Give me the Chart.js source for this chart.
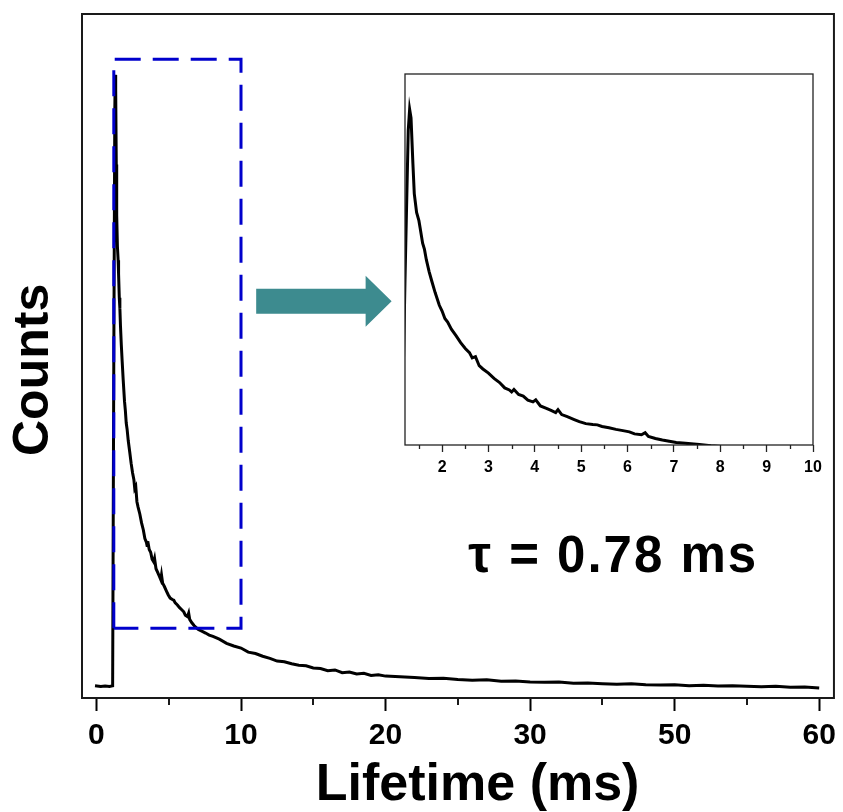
<!DOCTYPE html>
<html><head><meta charset="utf-8">
<script src="https://cdn.jsdelivr.net/npm/chart.js@4.4.1/dist/chart.umd.min.js"></script>
<style>
html,body{margin:0;padding:0;background:#fff;}
#wrap{position:relative;width:843px;height:812px;overflow:hidden;}
canvas{position:absolute;left:0;top:0;}
</style></head><body>
<div id="wrap"><canvas id="main" width="843" height="812"></canvas><canvas id="inset" width="843" height="812"></canvas></div>
<script>
// ---- data (x in axis units of the plotted time axis, y = counts, normalised) ----
const lifetimeMs = [
 -0.1, 0.3, 0.6, 0.9, 1.12, 1.2, 1.27, 1.30, 1.33, 1.37, 1.40, 1.45, 1.50, 1.53, 1.58, 1.62, 1.66, 1.72, 1.78, 1.85,
 1.94, 2.00, 2.06, 2.12, 2.20, 2.30, 2.40, 2.50, 2.59, 2.65, 2.72, 2.80, 2.88, 3.00, 3.12, 3.24, 3.35, 3.45, 3.50, 3.55,
 3.65, 3.75, 3.85, 3.96, 4.02, 4.12, 4.25, 4.35, 4.45, 4.50, 4.58, 4.70, 4.85, 4.96, 5.10, 5.25, 5.35, 5.45, 5.60, 5.75,
 5.90, 6.04, 6.15, 6.30, 6.38, 6.45, 6.60, 6.75, 6.90, 7.05, 7.25, 7.55, 7.80, 8.06, 8.5, 9.0, 9.5, 10, 10.5, 11,
 11.5, 12, 12.5, 13, 13.5, 14, 14.5, 15, 15.5, 16, 16.5, 17, 17.5, 18, 18.5, 19, 19.5, 20, 21, 22,
 23, 24, 25, 26, 27, 28, 29, 30, 31, 32, 33, 34, 35, 36, 37, 38, 39, 40, 41, 42,
 43, 44, 45, 46, 47, 48, 49, 50
];
const counts = [
 1.8, 1.7, 1.75, 1.7, 1.8, 49.6, 86.0, 91.1, 89.0, 78.0, 70.6, 66.0, 64.0, 62.0, 58.5, 57.0, 54.5, 51.6, 49.2, 46.5,
 43.4, 42.0, 40.2, 39.3, 37.6, 36.0, 34.3, 32.9, 31.9, 30.6, 30.9, 28.7, 27.9, 26.9, 25.6, 24.6, 23.3, 22.8, 22.3, 22.9,
 21.7, 21.3, 20.3, 19.9, 20.4, 18.9, 18.3, 17.8, 17.3, 18.0, 16.8, 16.3, 15.6, 15.1, 14.6, 14.4, 14.3, 13.9, 13.6, 13.2,
 12.9, 12.6, 12.1, 11.9, 12.4, 11.5, 11.0, 10.6, 10.3, 10.0, 9.8, 9.5, 9.2, 9.0, 8.6, 8.0, 7.6, 7.3, 6.7, 6.5,
 6.1, 5.8, 5.4, 5.3, 5.0, 4.8, 4.7, 4.4, 4.3, 4.0, 4.1, 3.7, 3.8, 3.5, 3.6, 3.3, 3.4, 3.2, 3.1, 3.0,
 2.85, 2.9, 2.7, 2.6, 2.65, 2.45, 2.5, 2.35, 2.3, 2.35, 2.15, 2.2, 2.1, 2.0, 2.1, 1.95, 1.9, 1.95, 1.8, 1.85,
 1.75, 1.78, 1.7, 1.65, 1.72, 1.58, 1.6, 1.45
];
const xTickValues = [0, 10, 20, 30, 40, 50];
const xTickLabels = ['0', '10', '20', '30', '50', '60'];
const xMinorTicks = [5, 15, 25, 35, 45];
const insetTickValues = [2, 3, 4, 5, 6, 7, 8, 9, 10];
const insetTickLabels = ['2', '3', '4', '5', '6', '7', '8', '9', '10'];
const insetMinorTicks = [1.5, 2.5, 3.5, 4.5, 5.5, 6.5, 7.5, 8.5, 9.5];
const zoomBoxX = [1.2, 10];
const zoomBoxY = [10.2, 93.4];
const arrowX = [11.05, 20.42];
const arrowLevel = 58.0;
const tauLabel = 'τ = 0.78 ms';
const tauPos = [35.75, 18.4];

const FONT = '"Liberation Sans", Arial, Helvetica, sans-serif';
const curve = lifetimeMs.map((x, i) => ({x: x, y: counts[i]}));
const boxPts = [
  {x: zoomBoxX[0], y: zoomBoxY[0]}, {x: zoomBoxX[0], y: zoomBoxY[1]},
  {x: zoomBoxX[1], y: zoomBoxY[1]}, {x: zoomBoxX[1], y: zoomBoxY[0]},
  {x: zoomBoxX[0], y: zoomBoxY[0]}
];

const mainDeco = {
  id: 'mainDeco',
  afterDatasetsDraw(chart) {
    const ctx = chart.ctx, a = chart.chartArea;
    const xs = chart.scales.x, ys = chart.scales.y;
    ctx.save();
    // frame
    ctx.strokeStyle = '#1a1a1a'; ctx.lineWidth = 2;
    ctx.strokeRect(a.left, a.top, a.right - a.left, a.bottom - a.top);
    // minor ticks
    ctx.beginPath();
    xMinorTicks.forEach(v => { const px = Math.round(xs.getPixelForValue(v)); ctx.moveTo(px, a.bottom); ctx.lineTo(px, a.bottom + 7); });
    ctx.stroke();
    // arrow
    const x0 = xs.getPixelForValue(arrowX[0]), x1 = xs.getPixelForValue(arrowX[1]);
    const yc = ys.getPixelForValue(arrowLevel);
    const bh = 12.5, hh = 25.5, hl = 26;
    ctx.fillStyle = '#3d8b8f';
    ctx.beginPath();
    ctx.moveTo(x0, yc - bh); ctx.lineTo(x1 - hl, yc - bh); ctx.lineTo(x1 - hl, yc - hh);
    ctx.lineTo(x1, yc); ctx.lineTo(x1 - hl, yc + hh); ctx.lineTo(x1 - hl, yc + bh);
    ctx.lineTo(x0, yc + bh); ctx.closePath(); ctx.fill();
    // tau label
    ctx.fillStyle = '#000';
    ctx.font = 'bold 51px ' + FONT;
    if ('letterSpacing' in ctx) ctx.letterSpacing = '2px';
    ctx.textAlign = 'center'; ctx.textBaseline = 'alphabetic';
    ctx.fillText(tauLabel, xs.getPixelForValue(tauPos[0]), ys.getPixelForValue(tauPos[1]));
    ctx.restore();
  }
};

new Chart(document.getElementById('main'), {
  type: 'scatter',
  data: { datasets: [
    { data: boxPts, showLine: true, borderColor: '#0000cc', borderWidth: 3, borderDash: [26, 12], pointRadius: 0, order: 0, tension: 0 },
    { data: curve, showLine: true, borderColor: '#000', borderWidth: 3, pointRadius: 0, order: 1, tension: 0 }
  ]},
  options: {
    responsive: false, animation: false, devicePixelRatio: 1,
    layout: { padding: { top: 14, right: 6, left: 0, bottom: 0 } },
    plugins: { legend: { display: false }, tooltip: { enabled: false } },
    scales: {
      x: {
        type: 'linear', min: -1, max: 51.02,
        afterBuildTicks: s => { s.ticks = xTickValues.map(v => ({value: v})); },
        ticks: { callback: (v, i) => xTickLabels[i], color: '#000', padding: 7, maxRotation: 0, autoSkip: false,
                 font: { family: FONT, size: 30, weight: 'bold' } },
        grid: { display: true, drawOnChartArea: false, tickLength: 13, tickWidth: 2, tickColor: '#000' },
        border: { display: false },
        title: { display: true, text: '  \u2009Lifetime (ms)', color: '#000', padding: 0,
                 font: { family: FONT, size: 52, weight: 'bold', lineHeight: 1 } },
        afterFit: s => { s.height = 114; }
      },
      y: {
        type: 'linear', min: 0, max: 100,
        ticks: { display: false },
        grid: { display: false },
        border: { display: false },
        title: { display: true, text: 'Counts  ', color: '#000', padding: { top: 4, bottom: 0 },
                 font: { family: FONT, size: 50, weight: 'bold' } },
        afterFit: s => { s.width = 82; }
      }
    }
  },
  plugins: [mainDeco]
});

const insetDeco = {
  id: 'insetDeco',
  beforeDatasetsDraw(chart) {
    const ctx = chart.ctx, a = chart.chartArea;
    ctx.save(); ctx.fillStyle = '#fff';
    ctx.fillRect(a.left, a.top, a.right - a.left, a.bottom - a.top);
    ctx.restore();
  },
  afterDatasetsDraw(chart) {
    const ctx = chart.ctx, a = chart.chartArea, xs = chart.scales.x;
    ctx.save();
    ctx.strokeStyle = '#222'; ctx.lineWidth = 1.3;
    ctx.strokeRect(a.left, a.top, a.right - a.left, a.bottom - a.top);
    ctx.lineWidth = 1.3; ctx.beginPath();
    insetMinorTicks.forEach(v => { const px = Math.round(xs.getPixelForValue(v)) + 0.5; ctx.moveTo(px, a.bottom); ctx.lineTo(px, a.bottom + 4); });
    ctx.stroke();
    ctx.restore();
  }
};

new Chart(document.getElementById('inset'), {
  type: 'scatter',
  data: { datasets: [
    { data: curve, showLine: true, borderColor: '#000', borderWidth: 3, pointRadius: 0, tension: 0 }
  ]},
  options: {
    responsive: false, animation: false, devicePixelRatio: 1,
    layout: { padding: { top: 74, right: 30, left: 405, bottom: 0 } },
    plugins: { legend: { display: false }, tooltip: { enabled: false } },
    scales: {
      x: {
        type: 'linear', min: 1.2, max: 10,
        afterBuildTicks: s => { s.ticks = insetTickValues.map(v => ({value: v})); },
        ticks: { callback: (v, i) => insetTickLabels[i], color: '#000', padding: 6, maxRotation: 0, autoSkip: false,
                 font: { family: FONT, size: 16, weight: 'bold' } },
        grid: { display: true, drawOnChartArea: false, tickLength: 7, tickWidth: 1.3, tickColor: '#222' },
        border: { display: false },
        afterFit: s => { s.height = 367; }
      },
      y: { type: 'linear', min: 9.4, max: 99.7, display: false }
    }
  },
  plugins: [insetDeco]
});
</script>
</body></html>
